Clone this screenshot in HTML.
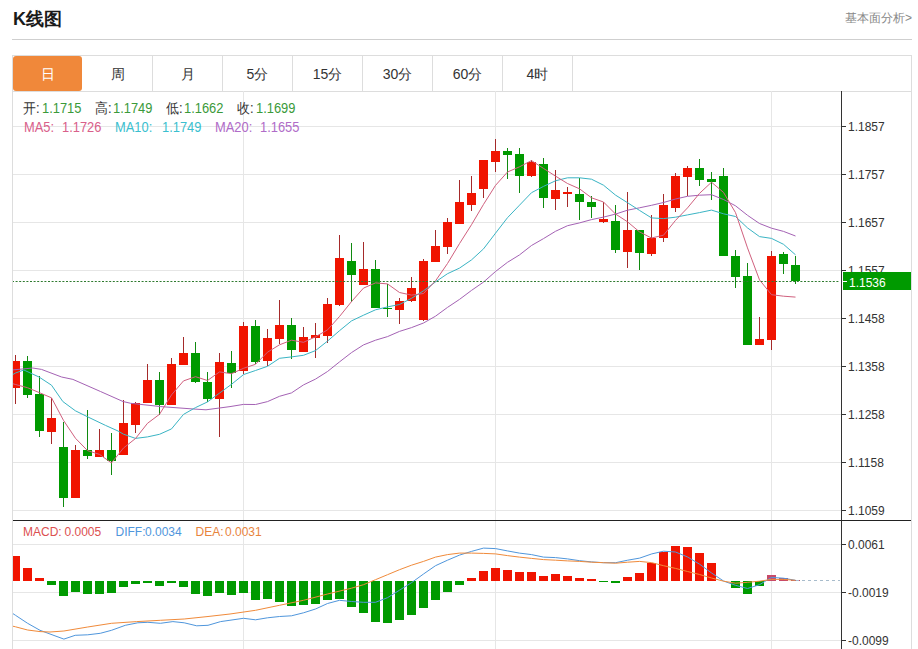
<!DOCTYPE html>
<html><head><meta charset="utf-8">
<style>
html,body{margin:0;padding:0;background:#fff;}
body{width:918px;height:649px;overflow:hidden;position:relative;font-family:"Liberation Sans",sans-serif;}
.a{position:absolute;white-space:nowrap;line-height:1;}
.tab{position:absolute;top:0;height:35px;width:70px;text-align:center;line-height:37px;font-size:14px;color:#333;border-right:1px solid #ddd;box-sizing:border-box;}
.lg{position:absolute;white-space:nowrap;line-height:1;font-size:14px;transform:scaleX(0.92);transform-origin:0 0;}
.yl{position:absolute;left:848px;font-size:12px;color:#333;line-height:1;transform:scaleY(1.1);transform-origin:0 0;}
</style></head><body>
<div class="a" style="left:13px;top:10px;font-size:18px;font-weight:bold;color:#1a1a1a;">K线图</div>
<div class="a" style="right:6px;top:12px;font-size:12px;color:#888;">基本面分析&gt;</div>
<div class="a" style="left:12px;top:39px;width:900px;height:1px;background:#cfcfcf;"></div>
<div class="a" style="left:12px;top:55px;width:900px;height:37px;border:1px solid #ddd;box-sizing:border-box;">
<div class="tab" style="left:0;width:69px;background:#f0883a;color:#fff;border-radius:3px;border:none;">日</div>
<div class="tab" style="left:70px;">周</div>
<div class="tab" style="left:140px;">月</div>
<div class="tab" style="left:210px;">5分</div>
<div class="tab" style="left:280px;">15分</div>
<div class="tab" style="left:350px;">30分</div>
<div class="tab" style="left:420px;">60分</div>
<div class="tab" style="left:490px;">4时</div>
</div>
<svg class="a" style="left:0;top:0" width="918" height="649" viewBox="0 0 918 649">
<defs><clipPath id="cl"><rect x="13" y="92" width="828" height="557"/></clipPath></defs>
<line x1="12" y1="126.5" x2="841" y2="126.5" stroke="#e6e6e6" stroke-width="1"/><line x1="12" y1="174.5" x2="841" y2="174.5" stroke="#e6e6e6" stroke-width="1"/><line x1="12" y1="222.5" x2="841" y2="222.5" stroke="#e6e6e6" stroke-width="1"/><line x1="12" y1="270.5" x2="841" y2="270.5" stroke="#e6e6e6" stroke-width="1"/><line x1="12" y1="318.5" x2="841" y2="318.5" stroke="#e6e6e6" stroke-width="1"/><line x1="12" y1="366.5" x2="841" y2="366.5" stroke="#e6e6e6" stroke-width="1"/><line x1="12" y1="414.5" x2="841" y2="414.5" stroke="#e6e6e6" stroke-width="1"/><line x1="12" y1="462.5" x2="841" y2="462.5" stroke="#e6e6e6" stroke-width="1"/><line x1="12" y1="510.5" x2="841" y2="510.5" stroke="#e6e6e6" stroke-width="1"/><line x1="12" y1="544.5" x2="841" y2="544.5" stroke="#e6e6e6" stroke-width="1"/><line x1="12" y1="592.5" x2="841" y2="592.5" stroke="#e6e6e6" stroke-width="1"/><line x1="12" y1="640.5" x2="841" y2="640.5" stroke="#e6e6e6" stroke-width="1"/><line x1="243.5" y1="91" x2="243.5" y2="649" stroke="#e6e6e6" stroke-width="1"/><line x1="495.5" y1="91" x2="495.5" y2="649" stroke="#e6e6e6" stroke-width="1"/><line x1="771.5" y1="91" x2="771.5" y2="649" stroke="#e6e6e6" stroke-width="1"/><g clip-path="url(#cl)" shape-rendering="crispEdges"><rect x="15" y="355" width="1" height="49" fill="#a52a2a"/><rect x="11" y="361" width="9" height="27" fill="#f01400"/><rect x="27" y="356" width="1" height="42" fill="#108a10"/><rect x="23" y="361" width="9" height="34" fill="#009a00"/><rect x="39" y="376" width="1" height="61" fill="#108a10"/><rect x="35" y="394" width="9" height="37" fill="#009a00"/><rect x="51" y="398" width="1" height="46" fill="#a52a2a"/><rect x="47" y="418" width="9" height="14" fill="#f01400"/><rect x="63" y="422" width="1" height="85" fill="#108a10"/><rect x="59" y="447" width="9" height="51" fill="#009a00"/><rect x="75" y="445" width="1" height="53" fill="#a52a2a"/><rect x="71" y="450" width="9" height="48" fill="#f01400"/><rect x="87" y="410" width="1" height="49" fill="#108a10"/><rect x="83" y="450" width="9" height="6" fill="#009a00"/><rect x="99" y="429" width="1" height="28" fill="#a52a2a"/><rect x="95" y="450" width="9" height="7" fill="#f01400"/><rect x="111" y="433" width="1" height="42" fill="#108a10"/><rect x="107" y="450" width="9" height="11" fill="#009a00"/><rect x="123" y="400" width="1" height="55" fill="#a52a2a"/><rect x="119" y="423" width="9" height="32" fill="#f01400"/><rect x="135" y="402" width="1" height="31" fill="#a52a2a"/><rect x="131" y="403" width="9" height="22" fill="#f01400"/><rect x="147" y="364" width="1" height="39" fill="#a52a2a"/><rect x="143" y="380" width="9" height="23" fill="#f01400"/><rect x="159" y="372" width="1" height="43" fill="#108a10"/><rect x="155" y="380" width="9" height="25" fill="#009a00"/><rect x="171" y="358" width="1" height="47" fill="#a52a2a"/><rect x="167" y="364" width="9" height="41" fill="#f01400"/><rect x="183" y="337" width="1" height="28" fill="#a52a2a"/><rect x="179" y="353" width="9" height="12" fill="#f01400"/><rect x="195" y="342" width="1" height="41" fill="#108a10"/><rect x="191" y="353" width="9" height="29" fill="#009a00"/><rect x="207" y="372" width="1" height="30" fill="#108a10"/><rect x="203" y="382" width="9" height="17" fill="#009a00"/><rect x="219" y="353" width="1" height="84" fill="#a52a2a"/><rect x="215" y="362" width="9" height="37" fill="#f01400"/><rect x="231" y="351" width="1" height="37" fill="#108a10"/><rect x="227" y="363" width="9" height="10" fill="#009a00"/><rect x="243" y="322" width="1" height="52" fill="#a52a2a"/><rect x="239" y="326" width="9" height="45" fill="#f01400"/><rect x="255" y="320" width="1" height="44" fill="#108a10"/><rect x="251" y="326" width="9" height="36" fill="#009a00"/><rect x="267" y="329" width="1" height="37" fill="#a52a2a"/><rect x="263" y="338" width="9" height="23" fill="#f01400"/><rect x="279" y="300" width="1" height="44" fill="#a52a2a"/><rect x="275" y="325" width="9" height="14" fill="#f01400"/><rect x="291" y="318" width="1" height="41" fill="#108a10"/><rect x="287" y="325" width="9" height="25" fill="#009a00"/><rect x="303" y="327" width="1" height="25" fill="#a52a2a"/><rect x="299" y="337" width="9" height="15" fill="#f01400"/><rect x="315" y="323" width="1" height="35" fill="#a52a2a"/><rect x="311" y="335" width="9" height="3" fill="#f01400"/><rect x="327" y="298" width="1" height="45" fill="#a52a2a"/><rect x="323" y="304" width="9" height="32" fill="#f01400"/><rect x="339" y="235" width="1" height="71" fill="#a52a2a"/><rect x="335" y="258" width="9" height="47" fill="#f01400"/><rect x="351" y="243" width="1" height="59" fill="#108a10"/><rect x="347" y="261" width="9" height="14" fill="#009a00"/><rect x="363" y="242" width="1" height="43" fill="#a52a2a"/><rect x="359" y="269" width="9" height="16" fill="#f01400"/><rect x="375" y="260" width="1" height="48" fill="#108a10"/><rect x="371" y="269" width="9" height="39" fill="#009a00"/><rect x="387" y="284" width="1" height="33" fill="#108a10"/><rect x="383" y="308" width="9" height="1" fill="#009a00"/><rect x="399" y="298" width="1" height="26" fill="#a52a2a"/><rect x="395" y="301" width="9" height="9" fill="#f01400"/><rect x="411" y="277" width="1" height="25" fill="#a52a2a"/><rect x="407" y="288" width="9" height="13" fill="#f01400"/><rect x="423" y="259" width="1" height="62" fill="#a52a2a"/><rect x="419" y="261" width="9" height="59" fill="#f01400"/><rect x="435" y="230" width="1" height="32" fill="#a52a2a"/><rect x="431" y="246" width="9" height="16" fill="#f01400"/><rect x="447" y="218" width="1" height="36" fill="#a52a2a"/><rect x="443" y="222" width="9" height="25" fill="#f01400"/><rect x="459" y="180" width="1" height="44" fill="#a52a2a"/><rect x="455" y="202" width="9" height="22" fill="#f01400"/><rect x="471" y="176" width="1" height="35" fill="#a52a2a"/><rect x="467" y="193" width="9" height="12" fill="#f01400"/><rect x="483" y="160" width="1" height="38" fill="#a52a2a"/><rect x="479" y="160" width="9" height="29" fill="#f01400"/><rect x="495" y="139" width="1" height="33" fill="#a52a2a"/><rect x="491" y="151" width="9" height="11" fill="#f01400"/><rect x="507" y="148" width="1" height="31" fill="#108a10"/><rect x="503" y="151" width="9" height="4" fill="#009a00"/><rect x="519" y="148" width="1" height="45" fill="#108a10"/><rect x="515" y="154" width="9" height="22" fill="#009a00"/><rect x="531" y="160" width="1" height="17" fill="#a52a2a"/><rect x="527" y="162" width="9" height="14" fill="#f01400"/><rect x="543" y="158" width="1" height="50" fill="#108a10"/><rect x="539" y="164" width="9" height="34" fill="#009a00"/><rect x="555" y="170" width="1" height="40" fill="#a52a2a"/><rect x="551" y="190" width="9" height="9" fill="#f01400"/><rect x="567" y="187" width="1" height="20" fill="#a52a2a"/><rect x="563" y="192" width="9" height="2" fill="#f01400"/><rect x="579" y="178" width="1" height="42" fill="#108a10"/><rect x="575" y="194" width="9" height="8" fill="#009a00"/><rect x="591" y="196" width="1" height="22" fill="#108a10"/><rect x="587" y="202" width="9" height="5" fill="#009a00"/><rect x="603" y="202" width="1" height="21" fill="#a52a2a"/><rect x="599" y="219" width="9" height="3" fill="#f01400"/><rect x="615" y="205" width="1" height="48" fill="#108a10"/><rect x="611" y="221" width="9" height="29" fill="#009a00"/><rect x="627" y="192" width="1" height="76" fill="#a52a2a"/><rect x="623" y="230" width="9" height="22" fill="#f01400"/><rect x="639" y="230" width="1" height="40" fill="#108a10"/><rect x="635" y="230" width="9" height="23" fill="#009a00"/><rect x="651" y="215" width="1" height="41" fill="#a52a2a"/><rect x="647" y="238" width="9" height="16" fill="#f01400"/><rect x="663" y="194" width="1" height="48" fill="#a52a2a"/><rect x="659" y="205" width="9" height="33" fill="#f01400"/><rect x="675" y="173" width="1" height="39" fill="#a52a2a"/><rect x="671" y="176" width="9" height="32" fill="#f01400"/><rect x="687" y="166" width="1" height="30" fill="#a52a2a"/><rect x="683" y="168" width="9" height="9" fill="#f01400"/><rect x="699" y="159" width="1" height="27" fill="#108a10"/><rect x="695" y="168" width="9" height="12" fill="#009a00"/><rect x="711" y="172" width="1" height="28" fill="#108a10"/><rect x="707" y="179" width="9" height="3" fill="#009a00"/><rect x="723" y="168" width="1" height="88" fill="#108a10"/><rect x="719" y="176" width="9" height="80" fill="#009a00"/><rect x="735" y="250" width="1" height="38" fill="#108a10"/><rect x="731" y="256" width="9" height="21" fill="#009a00"/><rect x="747" y="263" width="1" height="82" fill="#108a10"/><rect x="743" y="276" width="9" height="69" fill="#009a00"/><rect x="759" y="317" width="1" height="28" fill="#a52a2a"/><rect x="755" y="339" width="9" height="6" fill="#f01400"/><rect x="771" y="251" width="1" height="99" fill="#a52a2a"/><rect x="767" y="256" width="9" height="84" fill="#f01400"/><rect x="783" y="252" width="1" height="22" fill="#108a10"/><rect x="779" y="254" width="9" height="10" fill="#009a00"/><rect x="795" y="256" width="1" height="28" fill="#108a10"/><rect x="791" y="265" width="9" height="16" fill="#009a00"/></g><g clip-path="url(#cl)" fill="none" stroke-width="1"><polyline points="12.0,370.0 32.7,368.0 41.5,369.4 61.6,377.0 72.9,379.4 100.5,391.5 123.0,401.5 130.7,403.3 160.8,406.6 193.5,409.0 206.0,409.8 230.0,406.6 243.5,404.4 255.5,404.5 267.5,401.6 279.5,396.3 291.5,392.9 303.5,384.9 315.5,379.1 327.5,371.5 339.5,361.9 351.5,352.6 363.5,344.9 375.5,340.2 387.5,336.6 399.5,331.4 411.5,327.6 423.5,323.0 435.5,316.2 447.5,307.4 459.5,299.4 471.5,290.4 483.5,282.1 495.5,271.5 507.5,262.3 519.5,254.9 531.5,245.5 543.5,238.6 555.5,231.3 567.5,225.7 579.5,222.9 591.5,219.6 603.5,217.1 615.5,214.1 627.5,210.2 639.5,207.8 651.5,205.3 663.5,202.5 675.5,199.0 687.5,196.3 699.5,195.2 711.5,194.7 723.5,199.5 735.5,205.8 747.5,215.3 759.5,223.5 771.5,228.2 783.5,231.4 795.5,236.0" stroke="#a462b4"/><polyline points="12.0,375.0 15.5,373.0 23.9,370.0 39.0,377.0 51.5,385.2 62.8,401.5 75.4,410.8 88.0,417.0 105.5,425.4 118.0,431.0 123.5,434.2 135.5,438.4 147.5,436.9 159.5,434.3 171.5,428.9 183.5,414.4 195.5,407.6 207.5,401.9 219.5,393.1 231.5,384.3 243.5,374.6 255.5,370.5 267.5,366.3 279.5,358.3 291.5,356.9 303.5,355.3 315.5,350.6 327.5,341.1 339.5,330.7 351.5,320.9 363.5,315.2 375.5,309.8 387.5,306.9 399.5,304.5 411.5,298.3 423.5,290.8 435.5,281.9 447.5,273.7 459.5,268.1 471.5,259.9 483.5,248.9 495.5,233.2 507.5,217.7 519.5,205.2 531.5,192.7 543.5,186.4 555.5,180.8 567.5,177.8 579.5,177.8 591.5,179.2 603.5,185.2 615.5,195.1 627.5,202.7 639.5,210.4 651.5,217.9 663.5,218.6 675.5,217.2 687.5,214.9 699.5,212.6 711.5,210.1 723.5,213.8 735.5,216.5 747.5,227.9 759.5,236.6 771.5,238.4 783.5,244.3 795.5,254.8" stroke="#3ab4c4"/><polyline points="12.0,383.5 15.5,384.5 27.5,387.7 39.5,392.7 51.5,397.8 63.5,420.4 75.5,438.3 87.5,450.6 99.5,454.4 111.5,462.9 123.5,448.0 135.5,438.5 147.5,423.3 159.5,414.3 171.5,394.9 183.5,380.9 195.5,376.7 207.5,380.5 219.5,371.9 231.5,373.7 243.5,368.3 255.5,364.3 267.5,352.2 279.5,344.8 291.5,340.2 303.5,342.3 315.5,336.8 327.5,329.9 339.5,316.5 351.5,301.6 363.5,288.1 375.5,282.9 387.5,283.9 399.5,292.5 411.5,295.1 423.5,293.5 435.5,280.9 447.5,263.5 459.5,243.6 471.5,224.7 483.5,204.4 495.5,185.4 507.5,172.0 519.5,166.8 531.5,160.6 543.5,168.4 555.5,176.1 567.5,183.5 579.5,188.8 591.5,197.8 603.5,202.0 615.5,214.0 627.5,221.8 639.5,231.9 651.5,238.0 663.5,235.2 675.5,220.4 687.5,207.9 699.5,193.4 711.5,182.2 723.5,192.4 735.5,212.6 747.5,247.9 759.5,279.9 771.5,294.7 783.5,296.2 795.5,297.1" stroke="#d0607e"/></g><line x1="12" y1="281.5" x2="840" y2="281.5" stroke="#2f7a2f" stroke-width="1" stroke-dasharray="2,1.6"/><g clip-path="url(#cl)" shape-rendering="crispEdges"><rect x="11" y="556" width="9" height="25" fill="#f01400"/><rect x="23" y="568" width="9" height="13" fill="#f01400"/><rect x="35" y="578" width="9" height="3" fill="#f01400"/><rect x="47" y="581" width="9" height="4" fill="#009a00"/><rect x="59" y="581" width="9" height="15" fill="#009a00"/><rect x="71" y="581" width="9" height="11" fill="#009a00"/><rect x="83" y="581" width="9" height="13" fill="#009a00"/><rect x="95" y="581" width="9" height="13" fill="#009a00"/><rect x="107" y="581" width="9" height="12" fill="#009a00"/><rect x="119" y="581" width="9" height="6" fill="#009a00"/><rect x="131" y="581" width="9" height="3" fill="#009a00"/><rect x="143" y="581" width="9" height="2" fill="#009a00"/><rect x="155" y="581" width="9" height="5" fill="#009a00"/><rect x="167" y="581" width="9" height="2" fill="#009a00"/><rect x="179" y="581" width="9" height="6" fill="#009a00"/><rect x="191" y="581" width="9" height="13" fill="#009a00"/><rect x="203" y="581" width="9" height="15" fill="#009a00"/><rect x="215" y="581" width="9" height="12" fill="#009a00"/><rect x="227" y="581" width="9" height="14" fill="#009a00"/><rect x="239" y="581" width="9" height="12" fill="#009a00"/><rect x="251" y="581" width="9" height="19" fill="#009a00"/><rect x="263" y="581" width="9" height="18" fill="#009a00"/><rect x="275" y="581" width="9" height="21" fill="#009a00"/><rect x="287" y="581" width="9" height="25" fill="#009a00"/><rect x="299" y="581" width="9" height="24" fill="#009a00"/><rect x="311" y="581" width="9" height="23" fill="#009a00"/><rect x="323" y="581" width="9" height="19" fill="#009a00"/><rect x="335" y="581" width="9" height="18" fill="#009a00"/><rect x="347" y="581" width="9" height="26" fill="#009a00"/><rect x="359" y="581" width="9" height="32" fill="#009a00"/><rect x="371" y="581" width="9" height="41" fill="#009a00"/><rect x="383" y="581" width="9" height="42" fill="#009a00"/><rect x="395" y="581" width="9" height="39" fill="#009a00"/><rect x="407" y="581" width="9" height="34" fill="#009a00"/><rect x="419" y="581" width="9" height="27" fill="#009a00"/><rect x="431" y="581" width="9" height="19" fill="#009a00"/><rect x="443" y="581" width="9" height="11" fill="#009a00"/><rect x="455" y="581" width="9" height="4" fill="#009a00"/><rect x="467" y="578" width="9" height="3" fill="#f01400"/><rect x="479" y="571" width="9" height="10" fill="#f01400"/><rect x="491" y="568" width="9" height="13" fill="#f01400"/><rect x="503" y="570" width="9" height="11" fill="#f01400"/><rect x="515" y="572" width="9" height="9" fill="#f01400"/><rect x="527" y="572" width="9" height="9" fill="#f01400"/><rect x="539" y="576" width="9" height="5" fill="#f01400"/><rect x="551" y="574" width="9" height="7" fill="#f01400"/><rect x="563" y="576" width="9" height="5" fill="#f01400"/><rect x="575" y="578" width="9" height="3" fill="#f01400"/><rect x="587" y="579" width="9" height="2" fill="#f01400"/><rect x="599" y="581" width="9" height="1" fill="#009a00"/><rect x="611" y="581" width="9" height="2" fill="#009a00"/><rect x="623" y="577" width="9" height="4" fill="#f01400"/><rect x="635" y="573" width="9" height="8" fill="#f01400"/><rect x="647" y="563" width="9" height="18" fill="#f01400"/><rect x="659" y="552" width="9" height="29" fill="#f01400"/><rect x="671" y="546" width="9" height="35" fill="#f01400"/><rect x="683" y="547" width="9" height="34" fill="#f01400"/><rect x="695" y="553" width="9" height="28" fill="#f01400"/><rect x="707" y="563" width="9" height="18" fill="#f01400"/><rect x="731" y="581" width="9" height="7" fill="#009a00"/><rect x="743" y="581" width="9" height="13" fill="#009a00"/><rect x="755" y="581" width="9" height="5" fill="#009a00"/><rect x="767" y="575" width="9" height="6" fill="#c84a68"/><rect x="779" y="578" width="9" height="3" fill="#c84a68"/><rect x="791" y="580" width="9" height="1" fill="#c84a68"/></g><line x1="796" y1="580.5" x2="840" y2="580.5" stroke="#a8bccc" stroke-width="1" stroke-dasharray="3,3"/><g clip-path="url(#cl)" fill="none" stroke-width="1"><polyline points="12.0,613.0 15.5,615.3 27.6,623.3 40.0,630.3 50.0,634.0 63.9,639.1 75.2,635.3 87.7,634.8 100.3,633.3 111.5,630.3 125.3,625.3 137.8,622.8 147.9,622.3 160.4,623.3 172.9,621.6 184.2,622.8 196.7,625.8 208.0,625.3 220.6,621.6 243.5,618.3 255.5,619.8 267.5,617.8 279.5,616.5 291.5,615.8 303.5,612.8 315.5,609.0 327.5,603.5 339.5,600.3 351.5,601.5 363.5,602.3 375.5,602.3 387.5,597.7 399.5,590.2 411.5,582.7 423.5,574.0 435.5,565.7 447.5,560.2 459.5,555.1 471.5,551.4 483.5,548.1 495.6,548.6 507.4,550.9 519.4,553.1 531.5,554.6 543.5,557.1 555.5,557.6 567.5,558.9 579.6,560.7 591.6,561.9 603.6,562.7 615.7,562.7 627.7,560.2 639.7,558.1 651.8,553.9 663.5,551.2 675.5,552.0 687.4,556.9 699.6,564.2 711.6,573.0 723.5,581.0 735.5,585.3 747.5,588.5 759.5,584.7 771.5,577.4 783.4,578.2 795.4,580.3" stroke="#4f96dc"/><polyline points="12.0,626.0 15.5,626.8 27.6,630.0 40.0,631.6 50.0,632.0 63.9,631.0 87.7,627.0 111.5,623.3 136.6,621.6 160.4,620.3 184.2,619.0 208.0,616.5 230.0,614.0 255.5,610.3 279.5,605.3 303.5,600.3 327.5,594.0 351.5,588.2 363.5,584.7 375.5,579.7 387.5,574.7 399.5,569.7 411.5,565.2 423.5,561.4 435.5,557.1 447.5,554.6 459.5,553.1 471.5,553.1 483.5,553.4 495.6,553.9 507.4,555.6 519.4,557.1 531.5,558.4 543.5,559.6 555.5,560.2 567.5,560.9 579.6,561.4 591.6,562.2 603.6,562.7 615.7,563.2 627.7,562.2 639.7,561.4 651.8,562.7 663.5,565.7 675.5,568.4 687.5,571.5 699.6,574.5 711.5,578.0 723.6,581.2 735.5,583.2 747.5,582.3 759.5,581.2 771.5,579.4 783.4,579.4 795.4,580.3" stroke="#f08a3a"/></g><rect x="841" y="91" width="1" height="558" fill="#333"/><rect x="12" y="520" width="899" height="1" fill="#222"/><rect x="12" y="91" width="1" height="558" fill="#ddd"/><rect x="911" y="91" width="1" height="558" fill="#ddd"/><rect x="841" y="126" width="5" height="1" fill="#333"/><rect x="841" y="174" width="5" height="1" fill="#333"/><rect x="841" y="222" width="5" height="1" fill="#333"/><rect x="841" y="270" width="5" height="1" fill="#333"/><rect x="841" y="318" width="5" height="1" fill="#333"/><rect x="841" y="366" width="5" height="1" fill="#333"/><rect x="841" y="414" width="5" height="1" fill="#333"/><rect x="841" y="462" width="5" height="1" fill="#333"/><rect x="841" y="510" width="5" height="1" fill="#333"/><rect x="841" y="544" width="5" height="1" fill="#333"/><rect x="841" y="592" width="5" height="1" fill="#333"/><rect x="841" y="640" width="5" height="1" fill="#333"/>
</svg>
<div class="lg" style="left:23px;top:101px;color:#333;">开:</div><div class="lg" style="left:42px;top:101px;color:#3a9a3a;">1.1715</div>
<div class="lg" style="left:95px;top:101px;color:#333;">高:</div><div class="lg" style="left:113px;top:101px;color:#3a9a3a;">1.1749</div>
<div class="lg" style="left:166px;top:101px;color:#333;">低:</div><div class="lg" style="left:184px;top:101px;color:#3a9a3a;">1.1662</div>
<div class="lg" style="left:237px;top:101px;color:#333;">收:</div><div class="lg" style="left:255.5px;top:101px;color:#3a9a3a;">1.1699</div>
<div class="lg" style="left:23.5px;top:120px;color:#d9608a;">MA5:</div><div class="lg" style="left:62px;top:120px;color:#d9608a;">1.1726</div>
<div class="lg" style="left:115px;top:120px;color:#3bbfcf;">MA10:</div><div class="lg" style="left:161.5px;top:120px;color:#3bbfcf;">1.1749</div>
<div class="lg" style="left:214.5px;top:120px;color:#b06cc8;">MA20:</div><div class="lg" style="left:260px;top:120px;color:#b06cc8;">1.1655</div>
<div class="a" style="left:23px;top:526px;font-size:12px;color:#dc5050;">MACD:</div><div class="a" style="left:64.5px;top:526px;font-size:12px;color:#dc5050;">0.0005</div>
<div class="a" style="left:115.5px;top:526px;font-size:12px;color:#4f96dc;">DIFF:</div><div class="a" style="left:145px;top:526px;font-size:12px;color:#4f96dc;">0.0034</div>
<div class="a" style="left:195.5px;top:526px;font-size:12px;color:#e8843c;">DEA:</div><div class="a" style="left:225px;top:526px;font-size:12px;color:#e8843c;">0.0031</div>
<div class="yl" style="top:120px">1.1857</div><div class="yl" style="top:168px">1.1757</div><div class="yl" style="top:216px">1.1657</div><div class="yl" style="top:264px">1.1557</div><div class="yl" style="top:312px">1.1458</div><div class="yl" style="top:360px">1.1358</div><div class="yl" style="top:408px">1.1258</div><div class="yl" style="top:456px">1.1158</div><div class="yl" style="top:504px">1.1059</div><div class="yl" style="top:538px">0.0061</div><div class="yl" style="top:586px">-0.0019</div><div class="yl" style="top:634px">-0.0099</div>
<div class="a" style="left:843px;top:272px;width:68px;height:18px;background:#009a00;"></div><div class="a" style="left:843px;top:281px;width:4px;height:1px;background:#fff;"></div>
<div class="yl" style="top:275.5px;left:849px;color:#fff;">1.1536</div>
</body></html>
